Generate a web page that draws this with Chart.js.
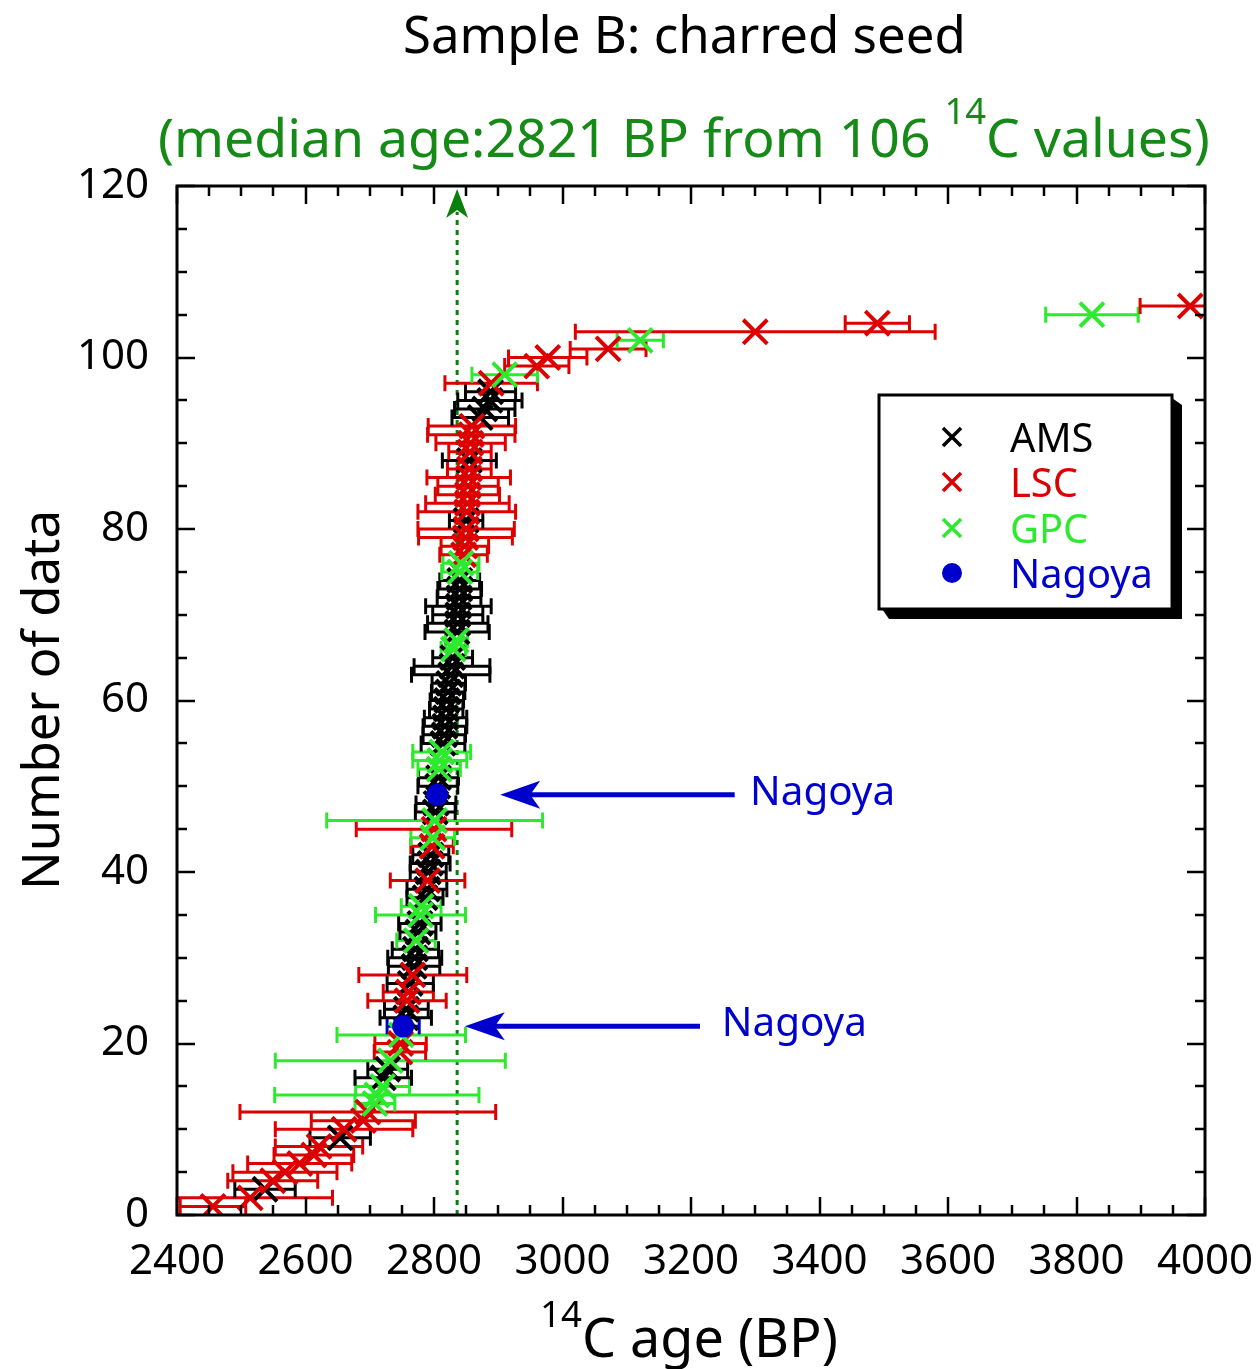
<!DOCTYPE html>
<html>
<head>
<meta charset="utf-8">
<script src="https://cdn.jsdelivr.net/npm/chart.js@4.4.0/dist/chart.umd.min.js"></script>
<style>
html,body{margin:0;padding:0;background:#fff;}
canvas{display:block;}
</style>
</head>
<body>
<canvas id="chart" width="1259" height="1369"></canvas>
<script>
// DATA: one entry per 14C value, sorted by age; rank = index + 1

const ages = [
    2456,2514,2537,2549,2568,2591,2613,2621,2654,2660,
    2690,2697,2708,2711,2720,2721,2728,2732,2747,2748,
    2749,2752,2756,2757,2758,2760,2763,2767,2769,2770,
    2771,2772,2775,2778,2779,2780,2786,2789,2790,2791,
    2794,2795,2797,2798,2800,2801,2802,2803,2805,2806,
    2807,2808,2809,2812,2814,2816,2817,2818,2819,2820,
    2822,2823,2826,2828,2829,2830,2835,2836,2837,2837,
    2838,2839,2840,2840,2840,2842,2846,2848,2849,2850,
    2850,2851,2852,2852,2853,2854,2855,2855,2856,2857,
    2858,2859,2872,2879,2887,2888,2889,2910,2960,2977,
    3071,3121,3300,3490,3824,3977
]

const errors = [
    51,128,47,70,81,81,62,68,47,107,
    81,199,31,159,42,44,31,179,40,40,
    100,25,40,34,61,39,36,84,40,42,
    36,30,28,33,70,31,28,31,58,28,
    31,28,33,34,121,168,31,31,12,31,
    31,33,42,45,34,33,34,33,26,26,
    26,26,61,59,31,19,17,50,47,39,
    51,34,34,31,28,28,37,37,73,75,
    26,76,65,50,47,65,34,42,33,54,
    68,68,44,47,50,39,72,51,50,61,
    59,36,280,50,72,78
]

// A = AMS, L = LSC, G = GPC, N = Nagoya
const methods = ('LLALLLLLAL' + 'LLGGGAAGLL' + 'GNAALLALAA' + 'AGAAGGAALA' +
                 'AALGLGAANA' + 'AGGGAAAAAA' + 'AAAAAGGAAA' + 'AAAAGGLLLL' +
                 'ALLLLLLALL' + 'LLAAAALGLL' + 'LGLLGL').split('')

const methodCodes = ['A','L','G','N']
const methodNames = ['AMS','LSC','GPC','Nagoya']

const medianLine = 2836
const medianAge = 2821
const nagoyaArrows = [   // [rank, tip age, tail age, label age]
    [49, 2903, 3268, 3292],
    [22, 2848, 3214, 3248]
]

const xRange = [2400, 4000]
const yRange = [0, 120]
const xSteps = [200, 50]
const ySteps = [20, 5]

const FONT = '"Noto Sans", "DejaVu Sans", sans-serif'
const colors = {A:'#000000', L:'#dd0000', G:'#2eea2e', N:'#0000cc'}

window.onload = () => {
    build_chart()
}

function build_datasets(){
    const sets = []
    // Nagoya first so it sits on top
    for (const code of ['N','G','L','A']){
        const pts = []
        for (let i=0;i<ages.length;i++){
            if (methods[i]===code) pts.push({x:ages[i], y:i+1})
        }
        const k = methodCodes.indexOf(code)
        sets.push({
            label:methodNames[k],
            data:pts,
            showLine:false,
            pointStyle: code==='N' ? 'circle' : 'crossRot',
            pointRadius: code==='N' ? 11 : 17,
            pointBorderWidth: code==='N' ? 0 : 4,
            borderColor:colors[code],
            backgroundColor:colors[code],
            pointHoverRadius:0
        })
    }
    return sets
}

// TEXT HELPERS

function fit_size(ctx, runs, width){
    let w = 0
    for (const r of runs){
        ctx.font = (100*(r.scale||1)) + 'px ' + FONT
        w += ctx.measureText(r.t).width
    }
    return 100*width/w
}

function draw_runs(ctx, runs, left, right, base, color, size){
    if (!size) size = fit_size(ctx, runs, right-left)
    let x = left
    ctx.fillStyle = color
    ctx.textAlign = 'left'
    ctx.textBaseline = 'alphabetic'
    for (const r of runs){
        ctx.font = (size*(r.scale||1)) + 'px ' + FONT
        ctx.fillText(r.t, x, base - (r.rise||0)*size)
        x += ctx.measureText(r.t).width
    }
    return size
}

// DRAWING

function draw_median(ctx, a, xs){
    const px = xs.getPixelForValue(medianLine)
    ctx.save()
    ctx.strokeStyle = '#0a800a'
    ctx.lineWidth = 3
    ctx.setLineDash([5,5])
    ctx.beginPath()
    ctx.moveTo(px, a.bottom)
    ctx.lineTo(px, a.top+26)
    ctx.stroke()
    ctx.setLineDash([])
    ctx.fillStyle = '#0a800a'
    ctx.beginPath()
    ctx.moveTo(px, a.top+3)
    ctx.lineTo(px+11, a.top+32)
    ctx.lineTo(px, a.top+24)
    ctx.lineTo(px-11, a.top+32)
    ctx.closePath()
    ctx.fill()
    ctx.restore()
}

function draw_error_bars(ctx, a, xs, ys){
    ctx.save()
    ctx.beginPath()
    ctx.rect(a.left, a.top, a.right-a.left, a.bottom-a.top)
    ctx.clip()
    ctx.lineWidth = 3
    for (let i=0;i<ages.length;i++){
        const py = ys.getPixelForValue(i+1)
        const x0 = xs.getPixelForValue(ages[i]-errors[i])
        const x1 = xs.getPixelForValue(ages[i]+errors[i])
        ctx.strokeStyle = colors[methods[i]]
        ctx.beginPath()
        ctx.moveTo(x0, py); ctx.lineTo(x1, py)
        ctx.moveTo(x0, py-8); ctx.lineTo(x0, py+8)
        ctx.moveTo(x1, py-8); ctx.lineTo(x1, py+8)
        ctx.stroke()
    }
    ctx.restore()
}

function draw_frame(ctx, a, xs, ys){
    ctx.save()
    ctx.strokeStyle = '#000'
    ctx.lineWidth = 2.5
    ctx.beginPath()
    for (let v=xRange[0]; v<=xRange[1]; v+=xSteps[1]){
        const px = Math.round(xs.getPixelForValue(v))
        const len = v%xSteps[0]===0 ? 18 : 10
        ctx.moveTo(px, a.bottom); ctx.lineTo(px, a.bottom-len)
        ctx.moveTo(px, a.top); ctx.lineTo(px, a.top+len)
    }
    for (let v=yRange[0]; v<=yRange[1]; v+=ySteps[1]){
        const py = Math.round(ys.getPixelForValue(v))
        const len = v%ySteps[0]===0 ? 18 : 10
        ctx.moveTo(a.left, py); ctx.lineTo(a.left+len, py)
        ctx.moveTo(a.right, py); ctx.lineTo(a.right-len, py)
    }
    ctx.stroke()
    ctx.lineWidth = 3
    ctx.strokeRect(a.left, a.top, a.right-a.left, a.bottom-a.top)
    ctx.restore()
}

function draw_x_mark(ctx, x, y, r, color, w){
    ctx.strokeStyle = color
    ctx.lineWidth = w
    ctx.beginPath()
    ctx.moveTo(x-r, y-r); ctx.lineTo(x+r, y+r)
    ctx.moveTo(x+r, y-r); ctx.lineTo(x-r, y+r)
    ctx.stroke()
}

function draw_legend(ctx){
    const L=879, T=395, R=1172, B=609
    ctx.save()
    ctx.fillStyle = '#000'
    ctx.beginPath()
    ctx.moveTo(L+3, B); ctx.lineTo(L+10, B+10); ctx.lineTo(R+10, B+10)
    ctx.lineTo(R+10, T+10); ctx.lineTo(R, T+3); ctx.lineTo(R, B)
    ctx.closePath()
    ctx.fill()
    ctx.fillStyle = '#fff'
    ctx.fillRect(L, T, R-L, B-T)
    ctx.strokeStyle = '#000'
    ctx.lineWidth = 3
    ctx.strokeRect(L, T, R-L, B-T)

    const size = fit_size(ctx, [{t:'Nagoya'}], 143)
    const rows = [437, 482, 528, 573]
    for (let k=0;k<methodCodes.length;k++){
        const c = colors[methodCodes[k]]
        if (methodCodes[k]==='N'){
            ctx.fillStyle = c
            ctx.beginPath()
            ctx.arc(952, rows[k], 10, 0, 2*Math.PI)
            ctx.fill()
        } else {
            draw_x_mark(ctx, 952, rows[k], 9, c, 3.5)
        }
        draw_runs(ctx, [{t:methodNames[k]}], 1010, 0, rows[k]+15, c, size)
    }
    ctx.restore()
}

function draw_arrow(ctx, tipX, tailX, y){
    ctx.save()
    ctx.strokeStyle = '#0000cc'
    ctx.fillStyle = '#0000cc'
    ctx.lineWidth = 5
    ctx.beginPath()
    ctx.moveTo(tipX+28, y); ctx.lineTo(tailX, y)
    ctx.stroke()
    ctx.beginPath()
    ctx.moveTo(tipX, y)
    ctx.lineTo(tipX+40, y-14)
    ctx.lineTo(tipX+30, y)
    ctx.lineTo(tipX+40, y+14)
    ctx.closePath()
    ctx.fill()
    ctx.restore()
}

function draw_notes(ctx, xs, ys){
    for (const n of nagoyaArrows){
        const py = ys.getPixelForValue(n[0])
        const tip = xs.getPixelForValue(n[1])
        const tail = xs.getPixelForValue(n[2])
        const lab = xs.getPixelForValue(n[3])
        draw_arrow(ctx, tip, tail, py)
        draw_runs(ctx, [{t:'Nagoya'}], lab, lab+145, py+10, '#0000cc')
    }
}

function draw_titles(ctx){
    ctx.save()
    draw_runs(ctx, [{t:'Sample B: charred seed'}], 403, 966, 53, '#000')
    draw_runs(ctx, [
        {t:'(median age:' + medianAge + ' BP from ' + ages.length + ' '},
        {t:'14', scale:0.68, rise:0.62},
        {t:'C values)'}
    ], 158, 1210, 157, '#168a16')
    draw_runs(ctx, [
        {t:'14', scale:0.68, rise:0.56},
        {t:'C age (BP)'}
    ], 540, 838, 1357, '#000')
    ctx.translate(59, 700)
    ctx.rotate(-Math.PI/2)
    draw_runs(ctx, [{t:'Number of data'}], -190, 190, 0, '#000')
    ctx.restore()
}

const decorPlugin = {
    id:'decor',
    beforeDatasetsDraw(chart){
        const {ctx, chartArea, scales} = chart
        draw_median(ctx, chartArea, scales.x)
        draw_error_bars(ctx, chartArea, scales.x, scales.y)
    },
    afterDatasetsDraw(chart){
        const {ctx, chartArea, scales} = chart
        draw_frame(ctx, chartArea, scales.x, scales.y)
        draw_legend(ctx)
        draw_notes(ctx, scales.x, scales.y)
        draw_titles(ctx)
    }
}

function build_chart(){
    const config = {
        type:'scatter',
        data:{datasets:build_datasets()},
        options:{
            responsive:false,
            animation:false,
            devicePixelRatio:1,
            layout:{padding:{left:0, right:54, top:186, bottom:0}},
            plugins:{
                legend:{display:false},
                tooltip:{enabled:false},
                title:{display:false}
            },
            scales:{
                x:{
                    type:'linear',
                    min:xRange[0], max:xRange[1],
                    afterFit:(s)=>{ s.height = 154; s.paddingLeft = 0; s.paddingRight = 0 },
                    grid:{display:false, drawTicks:false},
                    border:{display:false},
                    ticks:{
                        stepSize:xSteps[0],
                        autoSkip:false, maxRotation:0,
                        padding:22,
                        color:'#000',
                        font:{family:FONT, size:42},
                        callback:(v)=>String(v)
                    }
                },
                y:{
                    type:'linear',
                    min:yRange[0], max:yRange[1],
                    afterFit:(s)=>{ s.width = 177; s.paddingTop = 0; s.paddingBottom = 0 },
                    grid:{display:false, drawTicks:false},
                    border:{display:false},
                    ticks:{
                        stepSize:ySteps[0],
                        autoSkip:false,
                        padding:28,
                        color:'#000',
                        font:{family:FONT, size:42},
                        callback:(v)=>String(v)
                    }
                }
            }
        },
        plugins:[decorPlugin]
    }

    const chart = new Chart(document.getElementById('chart'), config)
}
</script>
</body>
</html>
